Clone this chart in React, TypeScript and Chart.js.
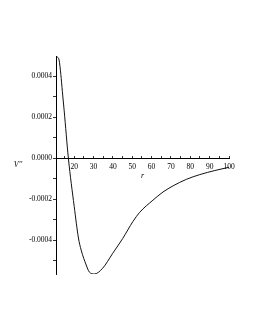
import React, { useEffect, useRef } from 'react';
import { Chart, registerables } from 'chart.js';
Chart.register(...registerables);

const rValues = [10.6, 11.3, 12.2, 13.1, 13.9, 14.8, 17.0, 20.0, 22.2, 23.6, 26.2, 27.8, 30.4, 34.7, 39.9, 45.1, 50.3, 53.8, 60.7, 65.9, 71.1, 78.0, 84.9, 92.7, 100];
const vValues = [0.0005, 0.000495, 0.00048, 0.00041, 0.000325, 0.000235, 0.0, -0.000235, -0.00039, -0.000449, -0.000522, -0.000556, -0.000566, -0.000538, -0.000465, -0.000392, -0.00031, -0.000265, -0.000205, -0.000165, -0.000135, -0.000103, -0.00008, -0.00006, -0.000044];
const xTicks = [15, 20, 25, 30, 35, 40, 45, 50, 55, 60, 65, 70, 75, 80, 85, 90, 95, 100];
const xLabelled = [20, 30, 40, 50, 60, 70, 80, 90, 100];
const yTicks = [-0.0005, -0.0004, -0.0003, -0.0002, -0.0001, 0, 0.0001, 0.0002, 0.0003, 0.0004];
const yLabelled = [-0.0004, -0.0002, 0, 0.0002, 0.0004];
const xTitle = 'r';
const yTitle = "V''";

const FONT = '"Liberation Serif", "DejaVu Serif", serif';

const titlesPlugin = {
  id: 'titles',
  afterDraw(chart: any) {
    const { ctx, scales } = chart;
    const x = scales.x;
    const y = scales.y;
    ctx.save();
    ctx.font = `italic 8px ${FONT}`;
    ctx.fillStyle = '#000';
    ctx.textAlign = 'center';
    ctx.textBaseline = 'middle';
    ctx.fillText(xTitle, x.getPixelForValue(55.3), y.getPixelForValue(0) + 18);
    ctx.fillText(yTitle, 18, y.getPixelForValue(0) + 7);
    ctx.restore();
  },
};

export default function App() {
  const ref = useRef<HTMLCanvasElement>(null);
  useEffect(() => {
    if (!ref.current) return;
    const chart = new Chart(ref.current, {
      type: 'line',
      data: {
        datasets: [
          {
            data: rValues.map((r, i) => ({ x: r, y: vValues[i] })),
            borderColor: '#111',
            borderWidth: 1,
            pointRadius: 0,
            cubicInterpolationMode: 'monotone',
            fill: false,
          },
        ],
      },
      options: {
        responsive: false,
        animation: false,
        devicePixelRatio: 1,
        layout: { padding: { left: 8, right: 26, top: 56, bottom: 56 } },
        plugins: { legend: { display: false }, tooltip: { enabled: false } },
        scales: {
          x: {
            type: 'linear',
            position: { y: 0 } as any,
            min: 10.6,
            max: 100,
            afterBuildTicks: (s: any) => {
              s.ticks = xTicks.map((v) => ({ value: v }));
            },
            afterFit: (s: any) => {
              s.height = 0;
            },
            grid: { drawOnChartArea: false, tickLength: -3, color: '#000', lineWidth: 0.8 },
            border: { display: true, color: '#000', width: 1 },
            ticks: {
              autoSkip: false,
              maxRotation: 0,
              padding: 7,
              color: '#000',
              font: { family: FONT, size: 7.5 },
              callback: (v: any) => (xLabelled.includes(Number(v)) ? String(v) : ''),
            },
          },
          y: {
            type: 'linear',
            min: -0.000566,
            max: 0.0005,
            afterBuildTicks: (s: any) => {
              s.ticks = yTicks.map((v) => ({ value: v }));
            },
            afterFit: (s: any) => {
              s.width = 48;
            },
            grid: { drawOnChartArea: false, tickLength: 3, color: '#000', lineWidth: 0.8 },
            border: { display: true, color: '#000', width: 1 },
            ticks: {
              autoSkip: false,
              padding: 1,
              color: '#000',
              font: { family: FONT, size: 7.5 },
              callback: (v: any) =>
                yLabelled.some((l) => Math.abs(l - Number(v)) < 1e-9) ? Number(v).toFixed(4) : '',
            },
          },
        },
      },
      plugins: [titlesPlugin],
    } as any);
    return () => chart.destroy();
  }, []);
  return (
    <div style={{ position: 'absolute', left: 0, top: 0, width: 255, height: 330, background: '#fff' }}>
      <canvas ref={ref} width={255} height={330} />
    </div>
  );
}
